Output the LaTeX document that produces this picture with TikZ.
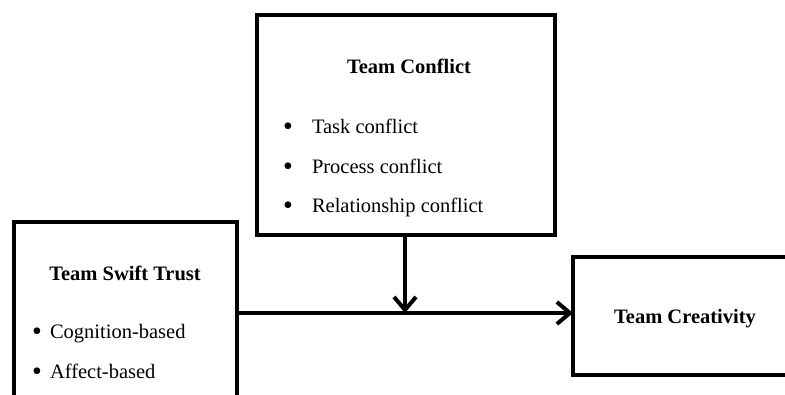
\documentclass[tikz,border=0pt]{standalone}
\usepackage{fontspec}
\setmainfont{Liberation Serif}
\usetikzlibrary{arrows.meta}
\begin{document}
\begin{tikzpicture}[x=1pt,y=-1pt,
  boxstyle/.style={draw=black,line width=4pt,fill=white,inner sep=0pt,outer sep=0pt},
  txt/.style={inner sep=0pt,outer sep=0pt,font=\fontsize{20.5}{24}\selectfont},
  ttl/.style={txt,font=\fontsize{20.5}{24}\selectfont\bfseries},
  bul/.style={inner sep=0pt,outer sep=0pt,font=\fontsize{28}{30}\selectfont},
  conn/.style={line width=4pt,-{Straight Barb[length=13pt,width=22pt,line width=4pt]}}]
\useasboundingbox (0,0) rectangle (785,394);
\clip (0,0) rectangle (785,394);
% boxes
\node[boxstyle,minimum width=298pt,minimum height=220pt] (conflict) at (406,125) {};
\node[boxstyle,minimum width=223pt,minimum height=200pt] (trust) at (125.5,322) {};
\node[boxstyle,minimum width=230pt,minimum height=118pt] (creat) at (688,316) {};
% texts
\node[ttl,anchor=base] (ctitle) at (409,73) {Team Conflict};
\node[bul,anchor=base] (cb1) at (288,135) {\textbullet};
\node[bul,anchor=base] (cb2) at (288,175) {\textbullet};
\node[bul,anchor=base] (cb3) at (288,214) {\textbullet};
\node[txt,anchor=base west] (ct1) at (312,133) {Task conflict};
\node[txt,anchor=base west] (ct2) at (312,173) {Process conflict};
\node[txt,anchor=base west] (ct3) at (312,212) {Relationship conflict};
\node[ttl,anchor=base] (ttitle) at (125,280) {Team Swift Trust};
\node[bul,anchor=base] (tb1) at (37,340) {\textbullet};
\node[bul,anchor=base] (tb2) at (37,380) {\textbullet};
\node[txt,anchor=base west] (tt1) at (50,338) {Cognition-based};
\node[txt,anchor=base west] (tt2) at (50,378) {Affect-based};
\node[ttl,anchor=base] (rtitle) at (685,323) {Team Creativity};
% connectors
\coordinate (meet) at (405,313);
\draw[conn] (trust.east |- meet) -- (creat.west |- meet);
\draw[conn] (conflict.south -| meet) -- (meet);
\end{tikzpicture}
\end{document}
